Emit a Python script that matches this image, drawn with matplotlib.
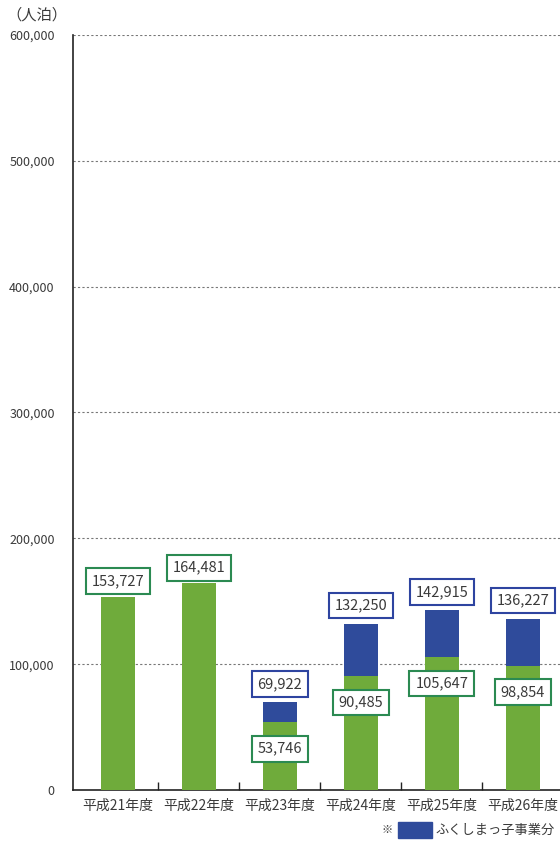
import matplotlib.pyplot as plt
import matplotlib.patches as mpatches
import numpy as np

plt.rcParams["font.family"] = ["Noto Sans CJK JP", "DejaVu Sans"]

years = ["平成21年度", "平成22年度", "平成23年度", "平成24年度", "平成25年度", "平成26年度"]
base = [153727, 164481, 53746, 90485, 105647, 98854]
total = [153727, 164481, 69922, 132250, 142915, 136227]
yticks = [0, 100000, 200000, 300000, 400000, 500000, 600000]

green = "#6fab3b"
blue = "#2f4b9b"
green_edge = "#2b8a52"
blue_edge = "#2e44a0"
text_col = "#3a3a3a"

fig = plt.figure(figsize=(5.6, 8.47), dpi=100)
ax = fig.add_axes([0.130, 0.0673, 0.870, 0.8914])

x = np.arange(len(years))
extra = np.array(total) - np.array(base)
width = 0.42
ax.bar(x, base, width, color=green, zorder=3)
ax.bar(x, extra, width, bottom=base, color=blue, zorder=3)

ax.set_xlim(-0.556, 5.46)
ax.set_ylim(0, 600000)
ax.set_yticks(yticks)
ax.set_yticklabels([f"{v:,}" for v in yticks], fontsize=9, color=text_col)
ax.tick_params(axis="y", length=0, pad=13)
ax.set_xticks(x[:-1] + 0.5)
ax.set_xticklabels([])
ax.tick_params(axis="x", direction="in", length=6, width=1, color="#222222")
for i, name in enumerate(years):
    ax.text(i, -12500, name, ha="center", va="center", fontsize=10, color=text_col)

for v in yticks[1:]:
    ax.axhline(v, color="#777777", lw=0.8, ls=(0, (2, 2)), zorder=1)

ax.spines["top"].set_visible(False)
ax.spines["right"].set_visible(False)
ax.spines["left"].set_color("#222222")
ax.spines["bottom"].set_color("#222222")
ax.spines["left"].set_linewidth(1.2)
ax.spines["bottom"].set_linewidth(1.2)


def boxed(xv, yv, dy, txt, edge):
    ax.annotate(txt, (xv, yv), xytext=(0, dy), textcoords="offset points",
                ha="center", va="center", fontsize=10.5, color=text_col, zorder=5,
                bbox=dict(boxstyle="square,pad=0.4", fc="white", ec=edge, lw=1.5))


for i in range(len(years)):
    if extra[i] > 0:
        boxed(i, total[i], 13, f"{total[i]:,}", blue_edge)
        boxed(i, base[i], -19, f"{base[i]:,}", green_edge)
    else:
        boxed(i, base[i], 11, f"{base[i]:,}", green_edge)

fig.text(0.012, 0.982, "（人泊）", fontsize=11, color=text_col, ha="left", va="center")

# legend for the stacked part
fig.text(0.682, 0.020, "※", fontsize=8, color=text_col, ha="left", va="center")
fig.patches.append(mpatches.Rectangle((0.711, 0.011), 0.061, 0.018, transform=fig.transFigure,
                                      color=blue, figure=fig))
fig.text(0.778, 0.020, "ふくしまっ子事業分", fontsize=9.5, color=text_col, ha="left", va="center")

fig.savefig("out.png", dpi=100)
